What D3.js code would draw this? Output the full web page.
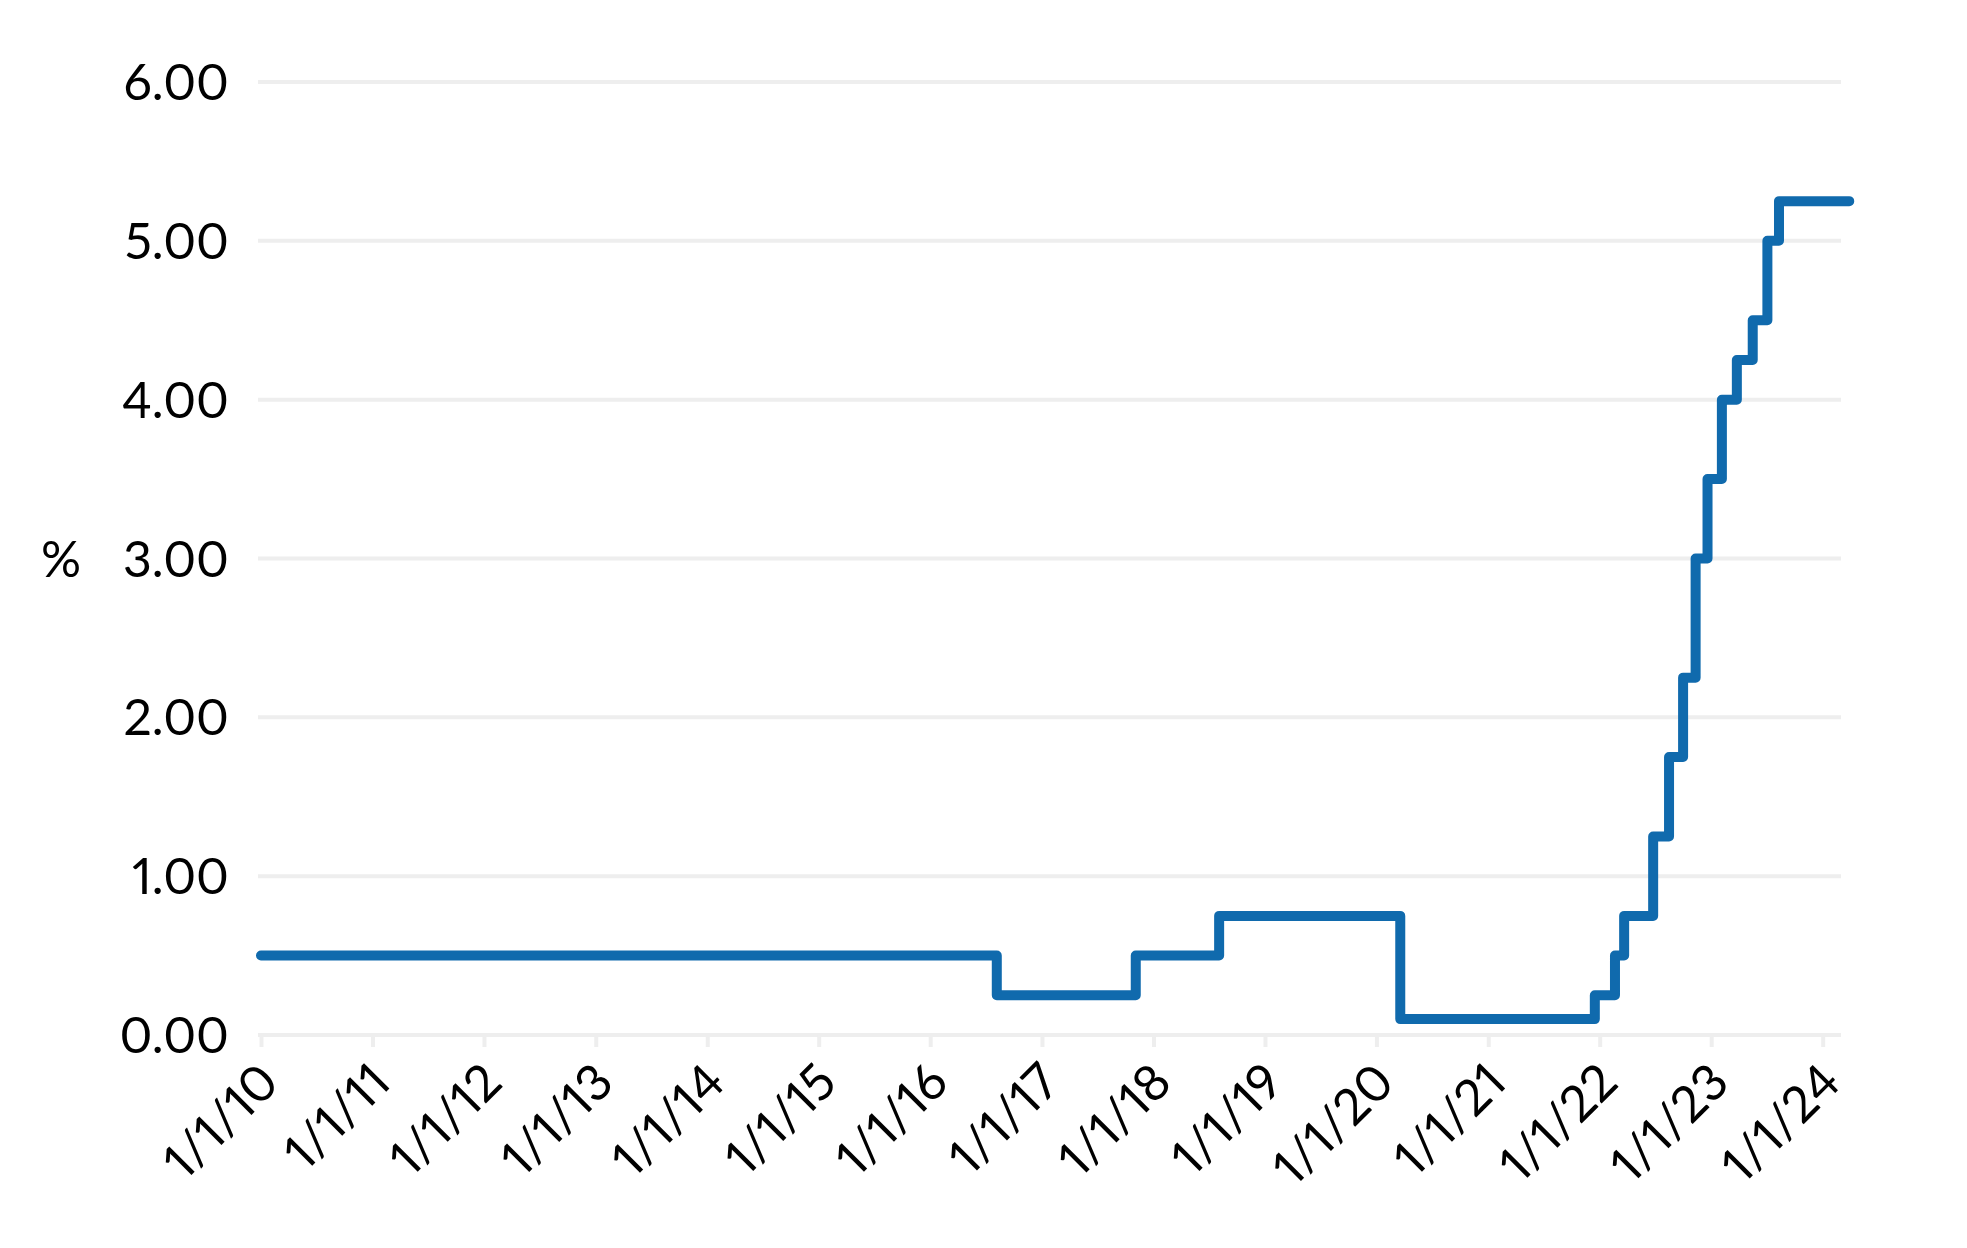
<!DOCTYPE html>
<html>
<head>
<meta charset="utf-8">
<script src="https://cdn.jsdelivr.net/npm/d3@7"></script>
<style>
  html, body { margin: 0; padding: 0; background: #ffffff; }
  svg { display: block; }
  text { font-family: Lato, "Noto Sans", sans-serif; fill: #000; font-variant-numeric: proportional-nums; }
</style>
</head>
<body>
<svg id="chart" width="1967" height="1248"></svg>
<script>
// ---- Data (Bank Rate, %, step changes) ----
const changeDates = [
  "2010-01-01", "2016-08-06", "2017-11-04", "2018-08-04", "2020-03-19",
  "2021-12-16", "2022-02-20", "2022-03-22", "2022-06-25", "2022-08-16",
  "2022-10-01", "2022-11-11", "2022-12-20", "2023-02-05", "2023-03-26",
  "2023-05-17", "2023-07-04", "2023-08-11", "2024-03-28"
];
const rates = [
  0.50, 0.25, 0.50, 0.75, 0.10,
  0.25, 0.50, 0.75, 1.25, 1.75,
  2.25, 3.00, 3.50, 4.00, 4.25,
  4.50, 5.00, 5.25, 5.25
];
const yTicks = [0, 1, 2, 3, 4, 5, 6];
const xTickYears = [2010, 2011, 2012, 2013, 2014, 2015, 2016, 2017, 2018, 2019, 2020, 2021, 2022, 2023, 2024];
const yAxisTitle = "%";

const parse = d3.timeParse("%Y-%m-%d");
const data = changeDates.map((d, i) => ({ date: parse(d), value: rates[i] }));

const svg = d3.select("#chart");
svg.append("rect").attr("width", 1967).attr("height", 1248).attr("fill", "#fff");

const x = d3.scaleTime()
  .domain([new Date(2010, 0, 1), new Date(2024, 2, 1)])
  .range([261, 1841]);
const y = d3.scaleLinear().domain([0, 6]).range([1035, 82]);

const FS = 50;

// gridlines
svg.append("g").selectAll("line").data(yTicks).join("line")
  .attr("x1", 258).attr("x2", x.range()[1])
  .attr("y1", d => y(d)).attr("y2", d => y(d))
  .attr("stroke", "#eeeeee").attr("stroke-width", 4);

// y labels
svg.append("g").selectAll("text").data(yTicks).join("text")
  .attr("x", 229).attr("y", d => y(d))
  .attr("dy", "0.36em")
  .attr("text-anchor", "end")
  .attr("font-size", FS)
  .text(d => d3.format(".2f")(d));

// y axis title
svg.append("text")
  .attr("x", 41).attr("y", y(3)).attr("dy", "0.36em")
  .attr("font-size", FS)
  .text(yAxisTitle);

// x axis
const xAxis = d3.axisBottom(x)
  .tickValues(xTickYears.map(yr => new Date(yr, 0, 1)))
  .tickFormat(d3.timeFormat("%-m/%-d/%y"))
  .tickSize(12)
  .tickPadding(0);

const gx = svg.append("g").attr("transform", `translate(0,${y(0)})`).call(xAxis);
gx.select(".domain").remove();
gx.selectAll(".tick line").attr("stroke", "#eeeeee").attr("stroke-width", 4);
gx.selectAll(".tick text")
  .attr("font-size", FS)
  .attr("font-family", "Lato, 'Noto Sans', sans-serif")
  .attr("fill", "#000")
  .attr("text-anchor", "end")
  .attr("x", 0).attr("y", 0).attr("dy", 0)
  .attr("transform", "translate(20,50) rotate(-45)");

// step line
const line = d3.line()
  .x(d => x(d.date))
  .y(d => y(d.value))
  .curve(d3.curveStepAfter);

svg.append("path")
  .datum(data)
  .attr("d", line)
  .attr("fill", "none")
  .attr("stroke", "#106aad")
  .attr("stroke-width", 10)
  .attr("stroke-linejoin", "round")
  .attr("stroke-linecap", "round");
</script>
</body>
</html>
